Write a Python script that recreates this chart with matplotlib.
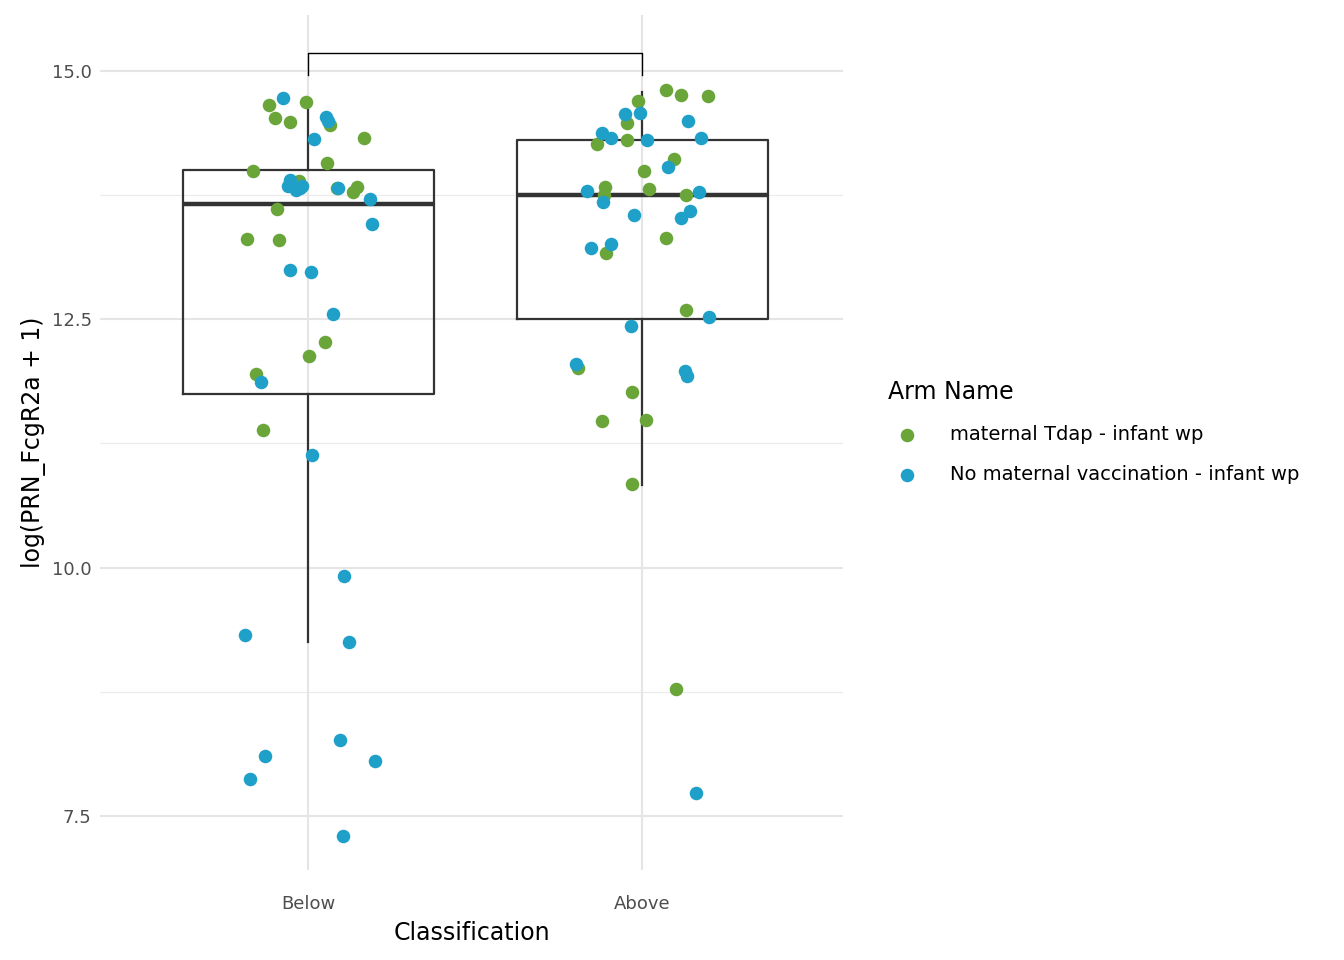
import numpy as np
import matplotlib.pyplot as plt

# pixel-read helpers converted to data values
def yv(p): return [round(15 - (v - 71) / 99.4, 2) for v in p]
def xo(p, c): return [round((v - c) / 334, 3) for v in p]

categories = ["Below", "Above"]
green = "#6AA53A"
blue = "#1FA0C8"

below_g_x = xo([269,275,290,306,330,364,327,253,299,337,357,353,277,247,279,325,309,256,263], 308)
below_g_y = yv([106,119,123,103,126,139,163,171,181,188,187,192,209,239,240,342,356,374,430])
below_b_x = xo([283,326,328,314,290,288,296,302,300,338,370,372,290,311,333,261,312,344,245,349,265,340,375,250,343], 308)
below_b_y = yv([98,118,122,140,180,186,190,186,188,188,199,224,270,272,315,382,456,576,636,643,756,740,761,779,836])
above_g_x = xo([665,680,707,638,627,597,627,673,644,605,649,604,685,665,606,685,578,632,602,646,632,675], 642)
above_g_y = yv([90,95,96,102,124,145,141,159,171,187,189,195,195,238,253,311,368,392,421,420,485,689])
above_b_x = xo([625,640,687,602,611,647,700,667,587,698,603,689,680,634,611,591,708,631,576,684,686,695], 642)
above_b_y = yv([115,114,122,134,139,141,139,167,191,192,202,211,218,215,244,248,318,326,364,371,376,794])

# box stats: whislo, q1, med, q3, whishi
box_stats = [[9.25, 11.75, 13.66, 14.0, 14.72], [10.83, 12.5, 13.75, 14.3, 14.79]]

fig = plt.figure(figsize=(13.44, 9.6), dpi=100)
ax = fig.add_axes([100/1344, 90/960, 743/1344, 855/960])
ax.set_xlim(0.377, 2.60)
ax.set_ylim(6.96, 15.56)
for s in ax.spines.values():
    s.set_visible(False)
ax.set_yticks([7.5, 10.0, 12.5, 15.0])
ax.set_yticklabels(["7.5", "10.0", "12.5", "15.0"])
ax.set_xticks([1, 2])
ax.set_xticklabels(categories)
ax.tick_params(length=0, labelsize=13, colors="#4d4d4d", pad=6)
ax.tick_params(axis="x", pad=18)
for y in [7.5, 10, 12.5, 15]:
    ax.axhline(y, color="#e5e5e5", lw=1.5, zorder=0)
for y in [8.75, 11.25, 13.75]:
    ax.axhline(y, color="#ebebeb", lw=0.8, zorder=0)
for x in [1, 2]:
    ax.axvline(x, color="#e5e5e5", lw=1.5, zorder=0)

bxp = [dict(whislo=s[0], q1=s[1], med=s[2], q3=s[3], whishi=s[4], fliers=[]) for s in box_stats]
ax.bxp(bxp, positions=[1, 2], widths=0.75, showfliers=False, showcaps=False,
       boxprops=dict(color="#333333", lw=1.6), whiskerprops=dict(color="#333333", lw=1.6),
       medianprops=dict(color="#333333", lw=3.2), manage_ticks=False, zorder=2)

ms = 95
ax.scatter(1 + np.array(below_g_x), below_g_y, s=ms, color=green, zorder=3, linewidths=0)
ax.scatter(1 + np.array(below_b_x), below_b_y, s=ms, color=blue, zorder=3, linewidths=0)
ax.scatter(2 + np.array(above_g_x), above_g_y, s=ms, color=green, zorder=3, linewidths=0)
ax.scatter(2 + np.array(above_b_x), above_b_y, s=ms, color=blue, zorder=3, linewidths=0)

ax.plot([1, 1, 2, 2], [14.96, 15.18, 15.18, 14.96], color="black", lw=1, zorder=4)

ax.set_xlabel("Classification", fontsize=17, labelpad=6)
ax.set_ylabel("log(PRN_FcgR2a + 1)", fontsize=17)

h1 = ax.scatter([], [], s=ms, color=green, linewidths=0)
h2 = ax.scatter([], [], s=ms, color=blue, linewidths=0)
leg = fig.legend([h1, h2], ["maternal Tdap - infant wp", "No maternal vaccination - infant wp"],
                 title="Arm Name", loc="center left", bbox_to_anchor=(870/1344, 0.55),
                 frameon=False, fontsize=14, title_fontsize=17, handletextpad=1.2, labelspacing=1.1)
leg._legend_box.align = "left"
fig.savefig("out.png", dpi=100)
